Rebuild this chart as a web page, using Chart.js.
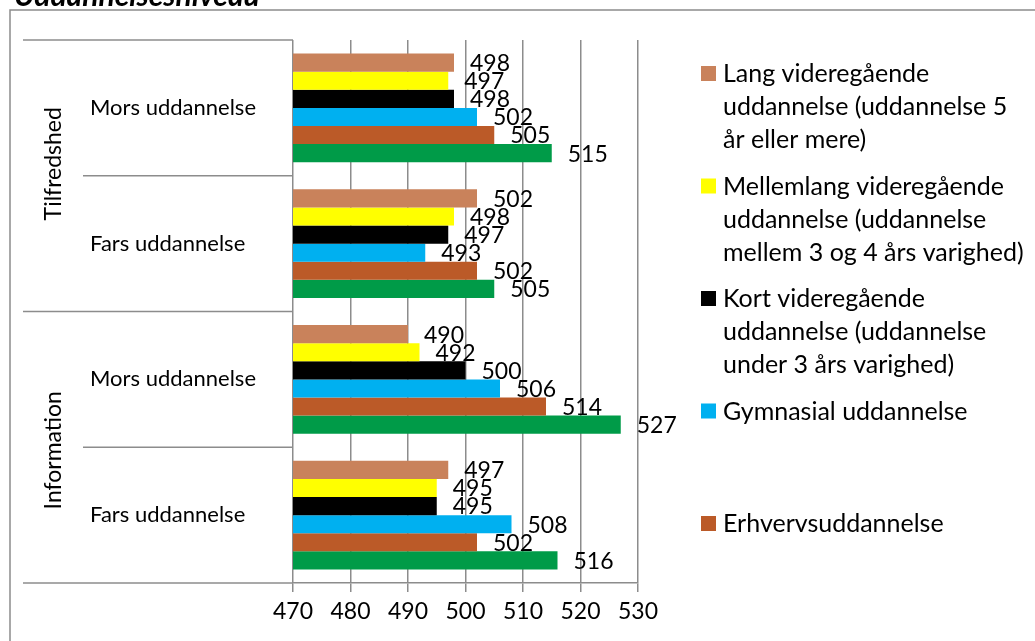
<!DOCTYPE html>
<html>
<head>
<meta charset="utf-8">
<style>
  html, body { margin: 0; padding: 0; background: #fff; }
  #wrap { width: 1035px; height: 641px; position: relative; }
</style>
</head>
<body>
<div id="wrap"><canvas id="myChart" width="1035" height="641"></canvas></div>
<script src="https://cdn.jsdelivr.net/npm/chart.js"></script>
<script>
    // categories (top to bottom) and their group
    const categories = ['Mors uddannelse', 'Fars uddannelse', 'Mors uddannelse', 'Fars uddannelse'];
    const groups = ['Tilfredshed', 'Information'];
    const chartTitle = 'Uddannelsesniveau';

    // one value per category, per education level
    const langVideregaaende = [498, 502, 490, 497];
    const mellemlangVideregaaende = [497, 498, 492, 495];
    const kortVideregaaende = [498, 497, 500, 495];
    const gymnasial = [502, 493, 506, 508];
    const erhverv = [505, 502, 514, 502];
    const grundlag = [515, 505, 527, 516];

    const xTicks = [470, 480, 490, 500, 510, 520, 530];

    // legend text as it wraps in the original
    const legendLines = [
        ['Lang videregående', 'uddannelse (uddannelse 5', 'år eller mere)'],
        ['Mellemlang videregående', 'uddannelse (uddannelse', 'mellem 3 og 4 års varighed)'],
        ['Kort videregående', 'uddannelse (uddannelse', 'under 3 års varighed)'],
        ['Gymnasial uddannelse'],
        ['Erhvervsuddannelse']
    ];

    const FONT = 'Lato, "Open Sans", sans-serif';
    const GRAY = '#8c8c8c';

    const series = [
        { values: langVideregaaende, color: '#c9825b' },
        { values: mellemlangVideregaaende, color: '#ffff00' },
        { values: kortVideregaaende, color: '#000000' },
        { values: gymnasial, color: '#00b0f0' },
        { values: erhverv, color: '#bb5a28' },
        { values: grundlag, color: '#009b48' }
    ];

    const datasets = series.map((s, i) => ({
        label: legendLines[i] ? legendLines[i].join(' ') : '',
        data: s.values,
        backgroundColor: s.color,
        borderWidth: 0,
        categoryPercentage: 0.8,
        barPercentage: 1.0
    }));

    // frame, title, category labels and separators
    const framePlugin = {
        id: 'frame',
        afterDraw(chart) {
            const ctx = chart.ctx;
            const area = chart.chartArea;
            const y = chart.scales.y;
            ctx.save();

            // outer border (top and left only visible)
            ctx.strokeStyle = GRAY;
            ctx.lineWidth = 1.5;
            ctx.beginPath();
            ctx.moveTo(10, 641);
            ctx.lineTo(10, 10);
            ctx.lineTo(1035, 10);
            ctx.stroke();

            // cut-off title
            ctx.fillStyle = '#000';
            ctx.font = 'italic bold 30px ' + FONT;
            ctx.textBaseline = 'alphabetic';
            ctx.textAlign = 'left';
            ctx.fillText(chartTitle, 14, 6);

            const n = categories.length;
            const step = (area.bottom - area.top) / n;
            const bounds = [];
            for (let i = 0; i <= n; i++) bounds.push(area.top + i * step);

            ctx.lineWidth = 1.5;
            ctx.strokeStyle = GRAY;
            for (let i = 0; i <= n; i++) {
                const outer = (i % 2 === 0);
                ctx.beginPath();
                ctx.moveTo(outer ? 23 : 83, bounds[i]);
                ctx.lineTo(area.left, bounds[i]);
                ctx.stroke();
            }

            ctx.fillStyle = '#000';
            ctx.font = '22px ' + FONT;
            ctx.textBaseline = 'middle';
            ctx.textAlign = 'left';
            categories.forEach((c, i) => {
                ctx.fillText(c, 90, y.getPixelForValue(i));
            });

            ctx.font = '23px ' + FONT;
            const groupShift = [-12, 3];
            groups.forEach((g, i) => {
                const cy = (bounds[i * 2] + bounds[i * 2 + 2]) / 2 + groupShift[i];
                ctx.save();
                ctx.translate(54, cy);
                ctx.rotate(-Math.PI / 2);
                ctx.textAlign = 'center';
                ctx.fillText(g, 0, 0);
                ctx.restore();
            });

            // legend
            ctx.font = '25px ' + FONT;
            ctx.textBaseline = 'alphabetic';
            legendLines.forEach((lines, i) => {
                const base = 82 + i * 112.5;
                ctx.fillStyle = series[i].color;
                ctx.fillRect(701, base - 16, 15, 15);
                ctx.fillStyle = '#000';
                lines.forEach((t, k) => {
                    ctx.fillText(t, 723, base + k * 33);
                });
            });
            ctx.restore();
        }
    };

    // value labels just right of each bar end
    const valueLabels = {
        id: 'valueLabels',
        afterDatasetsDraw(chart) {
            const ctx = chart.ctx;
            ctx.save();
            ctx.fillStyle = '#000';
            ctx.font = '23px ' + FONT;
            ctx.textBaseline = 'middle';
            ctx.textAlign = 'left';
            chart.data.datasets.forEach((ds, di) => {
                chart.getDatasetMeta(di).data.forEach((bar, i) => {
                    ctx.fillText(ds.data[i], bar.x + 16, bar.y + 1);
                });
            });
            ctx.restore();
        }
    };

    const ctx = document.getElementById('myChart');

    let chart = new Chart(ctx, {
        type: 'bar',
        data: {
            labels: categories,
            datasets: datasets
        },
        options: {
            indexAxis: 'y',
            responsive: false,
            animation: false,
            layout: {
                padding: { left: 293, right: 397, top: 40, bottom: 0 }
            },
            plugins: {
                legend: { display: false },
                tooltip: { enabled: false }
            },
            scales: {
                x: {
                    min: xTicks[0],
                    max: xTicks[xTicks.length - 1],
                    afterBuildTicks: (scale) => {
                        scale.ticks = xTicks.map(v => ({ value: v }));
                    },
                    afterFit: (scale) => { scale.height = 58; },
                    grid: {
                        color: GRAY,
                        lineWidth: 1.5,
                        tickLength: 9
                    },
                    border: { color: GRAY, width: 1.5 },
                    ticks: {
                        color: '#000',
                        font: { family: FONT, size: 23 },
                        padding: 6
                    }
                },
                y: {
                    display: false
                }
            }
        },
        plugins: [framePlugin, valueLabels]
    });
</script>
</body>
</html>
